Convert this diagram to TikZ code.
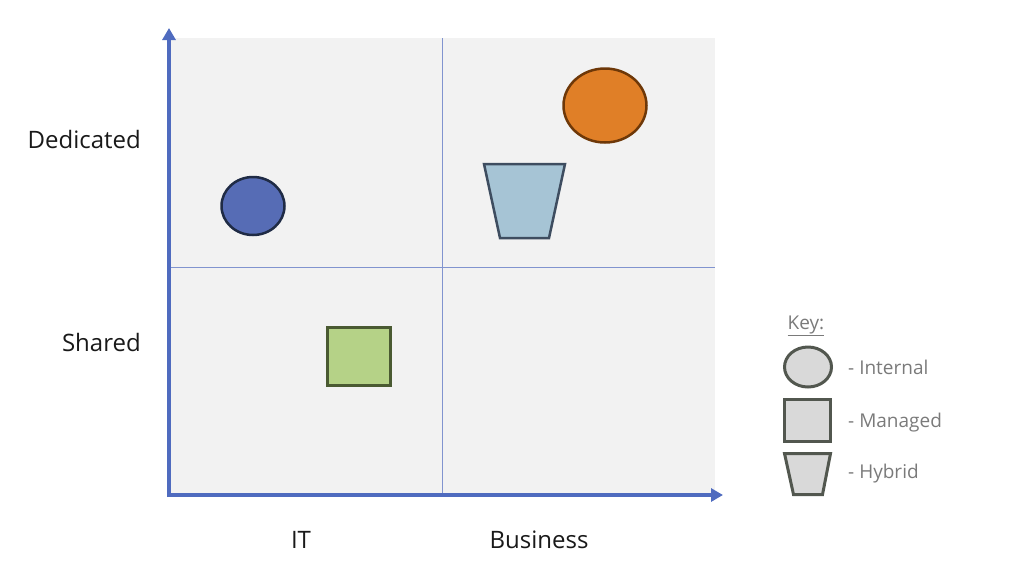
\documentclass[tikz,border=0pt]{standalone}
\usepackage{fontspec}
\setmainfont{Open Sans}
\usepackage{tikz}
\usetikzlibrary{arrows.meta}

\definecolor{bggray}{HTML}{F2F2F2}
\definecolor{axisblue}{HTML}{4F6BBF}
\definecolor{divblue}{HTML}{8194CF}
\definecolor{itfill}{HTML}{566CB5}
\definecolor{itline}{HTML}{1F2B45}
\definecolor{orfill}{HTML}{E07F27}
\definecolor{orline}{HTML}{6E3808}
\definecolor{hyfill}{HTML}{A6C4D5}
\definecolor{hyline}{HTML}{3E4D60}
\definecolor{grfill}{HTML}{B5D287}
\definecolor{grline}{HTML}{4A5A32}
\definecolor{keyfill}{HTML}{D9D9D9}
\definecolor{keyline}{HTML}{52574F}
\definecolor{keytextgray}{HTML}{7A7A7A}

\begin{document}
\begin{tikzpicture}[x=1pt,y=-1pt,
  axis/.style={line width=4pt, axisblue, -{Triangle[length=12pt,width=13pt]}},
  divider/.style={line width=1pt, divblue},
  item/.style={line width=2.5pt},
  keyshape/.style={fill=keyfill, draw=keyline, line width=3pt},
  axistext/.style={font=\fontsize{24}{28}\selectfont, text=black!90, inner sep=0pt},
  keytext/.style={font=\fontsize{19}{22}\selectfont, text=keytextgray, anchor=base west, inner sep=0pt}]
  \useasboundingbox (0,0) rectangle (1024,571);

  % quadrants
  \fill[bggray] (170,38) rectangle (715,495);
  \draw[divider] (442,38) -- (442,495);
  \draw[divider] (170,267) -- (715,267);

  % axes
  \coordinate (origin) at (169,497);
  \coordinate (ytip) at (169,28);
  \coordinate (xtip) at (723,495);
  \draw[axis] (origin) -- (ytip);
  \draw[axis] (167,495) -- (xtip);

  \node[axistext, anchor=base east] (dedicated) at (141,148) {Dedicated};
  \node[axistext, anchor=base east] (shared) at (141,351) {Shared};
  \node[axistext, anchor=base] (it) at (301,548) {IT};
  \node[axistext, anchor=base] (business) at (539,548) {Business};

  % items
  \filldraw[item, fill=itfill, draw=itline] (253,206) ellipse [x radius=31.5, y radius=29];
  \filldraw[item, fill=orfill, draw=orline] (605,105.5) ellipse [x radius=41.5, y radius=37];
  \filldraw[item, fill=hyfill, draw=hyline] (484,164) -- (565,164) -- (549,238) -- (500,238) -- cycle;
  \filldraw[item, fill=grfill, draw=grline] (327.5,327.5) rectangle (390.5,385.5);

  % key
  \node[keytext, anchor=base] (key) at (806,329) {\underline{Key:}};
  \filldraw[keyshape] (808,367) ellipse [x radius=23.5, y radius=20];
  \filldraw[keyshape] (784.5,399.5) rectangle (830.5,441.5);
  \filldraw[keyshape] (784.5,453.5) -- (830.5,453.5) -- (822.5,494.5) -- (793.5,494.5) -- cycle;
  \node[keytext] (internal) at (848,374) {- Internal};
  \node[keytext] (managed) at (848,427) {- Managed};
  \node[keytext] (hybrid) at (848,478) {- Hybrid};
\end{tikzpicture}
\end{document}
